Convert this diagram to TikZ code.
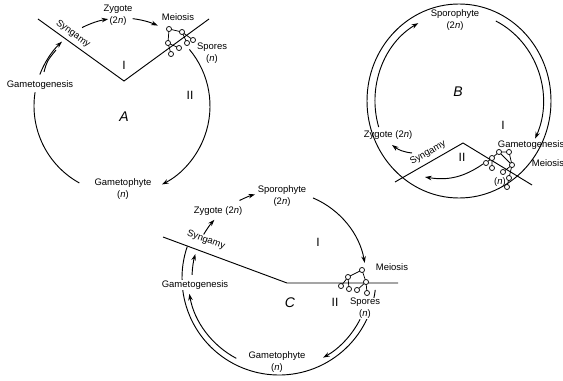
\documentclass[tikz,border=0pt]{standalone}
\usepackage{fontspec}
\setmainfont{Liberation Sans}
\usetikzlibrary{arrows.meta,calc}
\begin{document}
\begin{tikzpicture}[x=0.75pt,y=-0.75pt,
  ln/.style={line width=0.7pt},
  arr/.style={ln,-{Stealth[length=5pt,width=3.4pt]}},
  lbl/.style={font=\fontsize{7.1}{9}\selectfont, inner sep=0.5pt, align=center},
  big/.style={font=\fontsize{10.5}{12}\selectfont\itshape, inner sep=0pt},
  rom/.style={font=\fontsize{9}{10}\selectfont, inner sep=0pt},
  cellc/.style={fill=white, draw, line width=0.55pt},
]
\useasboundingbox (0,0) rectangle (563,381);

% ================= A =================
\coordinate (cA) at (122,106);
\draw[ln] (38,19) -- (124,81) -- (209,19);
\draw[arr] ($(cA)+(117:66pt)$) arc[start angle=117, end angle=99, radius=66pt];
\draw[arr] ($(cA)+(83:66pt)$) arc[start angle=83, end angle=66, radius=66pt];
\draw[arr] ($(cA)+(40:66pt)$) arc[start angle=40, end angle=-63, radius=66pt];
\draw[ln] ($(cA)+(241:66pt)$) arc[start angle=241, end angle=171, radius=66pt];
\draw[arr] ($(cA)+(159:66pt)$) arc[start angle=159, end angle=133, radius=66pt];
\draw[ln] (44,72) .. controls (47,61) .. (56,50);
% meiosis cluster A
\draw[line width=0.55pt] (169,29)--(182,32) (169,29)--(168,43) (168,43)--(171,54)
  (168,43)--(179,48) (182,32)--(187,43) (182,32)--(193,40);
\foreach \p in {(169,29),(182,32),(168,43),(171,54),(179,48),(187,43),(193,40)}
  \filldraw[cellc] \p circle[radius=1.9pt];
\node[lbl, rotate=-36] (synA) at (73,34) {Syngamy};
\node[lbl] (zygA) at (118,15) {Zygote\\(2\textit{n})};
\node[lbl] (meiA) at (178,17) {Meiosis};
\node[lbl] (sporA) at (212,53.5) {Spores\\(\textit{n})};
\node[lbl] (gamA) at (40,85) {Gametogenesis};
\node[lbl] (gphA) at (123,189.5) {Gametophyte\\(\textit{n})};
\node[rom] (IA) at (124,65) {I};
\node[rom] (IIA) at (190,95) {II};
\node[big] (labA) at (124,117) {A};

% ================= B =================
\coordinate (cB) at (459,101);
\draw[ln] (cB) ellipse[x radius=69pt, y radius=72.75pt];
\draw[arr] ($(cB)+(197:63pt and 66.75pt)$) arc[start angle=197, end angle=119, x radius=63pt, y radius=66.75pt];
\draw[arr] ($(cB)+(64:63pt and 66.75pt)$) arc[start angle=64, end angle=-25, x radius=63pt, y radius=66.75pt];
\draw[ln] (395,182) -- (463,143) -- (532,185);
\draw[arr] (412,153) to[bend left=15] (392,145);
\draw[arr] (483,164) to[bend left=22] (425,177);
% meiosis cluster B
\draw[line width=0.55pt] (499,152)--(509,152) (509,152)--(512,165) (499,152)--(512,165)
  (499,152)--(492,158) (492,158)--(486,163) (492,158)--(492,168)
  (512,165)--(503,172) (512,165)--(509,178) (509,178)--(507,187);
\foreach \p in {(499,152),(509,152),(512,165),(492,158),(486,163),(492,168),(503,172),(509,178),(507,187)}
  \filldraw[cellc] \p circle[radius=1.9pt];
\node[lbl] (sporB) at (455,20) {Sporophyte\\(2\textit{n})};
\node[lbl] (zygB) at (388,135) {Zygote (2\textit{n})};
\node[lbl, rotate=30] (synB) at (428,153) {Syngamy};
\node[lbl, anchor=west] (gamB) at (497,145) {Gametogenesis};
\node[lbl, anchor=west] (meiB) at (531,163) {Meiosis};
\node[lbl] (nB) at (500,182) {(\textit{n})};
\node[rom] (IB) at (503,125) {I};
\node[rom] (IIB) at (462,157) {II};
\node[big] (labB) at (458,92) {B};

% ================= C =================
\coordinate (cC) at (279,278);
\draw[ln] ($(cC)+(-7:72.75pt)$) arc[start angle=-7, end angle=-199, radius=72.75pt];
\draw[ln] (163,237) -- (287,283) -- (398,283);
\draw[arr] ($(cC)+(150:65.25pt)$) arc[start angle=150, end angle=138, radius=65.25pt];
\draw[arr] ($(cC)+(117:65.25pt)$) arc[start angle=117, end angle=106, radius=65.25pt];
\draw[arr] ($(cC)+(67:65.25pt)$) arc[start angle=67, end angle=10, radius=65.25pt];
\draw[arr] ($(cC)+(-27:68.25pt)$) arc[start angle=-27, end angle=-61, radius=68.25pt];
\draw[arr] ($(cC)+(242:68.25pt)$) arc[start angle=242, end angle=190, radius=68.25pt];
\draw[arr] ($(cC)+(178:65.25pt)$) arc[start angle=178, end angle=164, radius=65.25pt];
% meiosis cluster C
\draw[line width=0.55pt] (362,270)--(348,277) (362,270)--(366,282) (348,277)--(341,286)
  (348,277)--(349,289) (366,282)--(357,290) (366,282)--(367,293);
\foreach \p in {(362,270),(348,277),(366,282),(341,286),(349,289),(357,290),(367,293)}
  \filldraw[cellc] \p circle[radius=1.9pt];
\node[lbl, rotate=-20] (synC) at (206,240) {Syngamy};
\node[lbl] (zygC) at (218,211) {Zygote (2\textit{n})};
\node[lbl] (sporC) at (282,196) {Sporophyte\\(2\textit{n})};
\node[lbl] (meiC) at (392,267) {Meiosis};
\node[lbl, fill=white] (spoC) at (365,308.5) {Spores\\(\textit{n})};
\node[lbl, fill=white] (gamC) at (195,285) {Gametogenesis};
\node[lbl] (gphC) at (277,362) {Gametophyte\\(\textit{n})};
\node[rom] (IC) at (318,242) {I};
\node[rom] (IIC) at (335,302) {II};
\node[big] (labC) at (290,303) {C};
\end{tikzpicture}
\end{document}
